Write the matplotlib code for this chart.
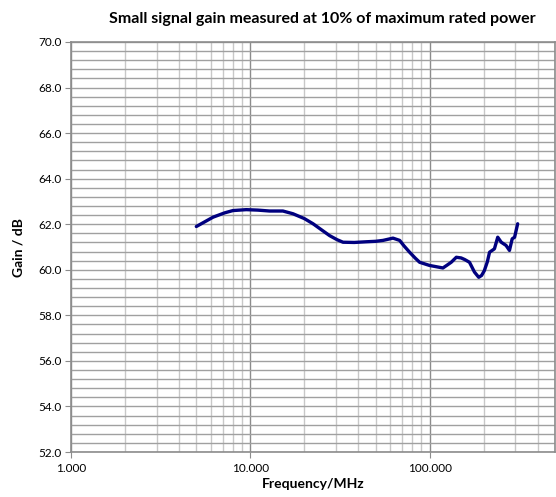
import numpy as np
import matplotlib
matplotlib.use("Agg")
from matplotlib import pyplot as plt
from matplotlib.ticker import FixedLocator, MultipleLocator, FormatStrFormatter

# data
freq_mhz = [5.0, 6.2, 7.2, 8.0, 9.5, 11.0, 12.8, 15.2, 17.3, 20.0, 22.4, 25.0, 27.7,
            30.5, 32.9, 38.0, 44.4, 50.0, 55.0, 62.5, 68.1, 72.0, 77.4, 83.0, 88.0,
            100.0, 118.7, 125.0, 132.0, 141.0, 150.0, 157.0, 167.0, 178.0, 188.0,
            195.0, 202.0, 210.0, 216.0, 230.0, 240.0, 251.0, 267.0, 279.0, 289.0,
            298.0, 310.0]
gain_db = [61.9, 62.31, 62.5, 62.6, 62.64, 62.62, 62.58, 62.58, 62.46, 62.25, 62.02,
           61.75, 61.5, 61.32, 61.21, 61.2, 61.23, 61.25, 61.29, 61.39, 61.29, 61.05,
           60.77, 60.52, 60.33, 60.19, 60.08, 60.2, 60.33, 60.55, 60.52, 60.45, 60.33,
           59.9, 59.67, 59.75, 59.96, 60.35, 60.77, 60.92, 61.43, 61.21, 61.07, 60.85,
           61.36, 61.43, 62.02]

plt.rcParams['font.family'] = ['Lato', 'DejaVu Sans']

fig = plt.figure(figsize=(5.56, 4.97), dpi=100)
ax = fig.add_axes([0.1277, 0.0905, 0.8703, 0.825])

ax.plot(freq_mhz, gain_db, color='#00007f', lw=2.4, solid_capstyle='round', zorder=3)

ax.set_xscale('log')
ax.set_xlim(1, 500)
ax.set_ylim(52, 70)

ax.xaxis.set_major_locator(FixedLocator([1, 10, 100]))
ax.xaxis.set_minor_locator(FixedLocator([m * d for d in (1, 10, 100) for m in range(2, 10) if m * d <= 500]))
ax.xaxis.set_major_formatter(FormatStrFormatter('%.3f'))
ax.xaxis.set_minor_formatter(plt.NullFormatter())
ax.yaxis.set_major_locator(MultipleLocator(2))
ax.yaxis.set_minor_locator(MultipleLocator(0.4))
ax.yaxis.set_major_formatter(FormatStrFormatter('%.1f'))

ax.grid(which='major', axis='x', color='#8c8c8c', lw=1.0)
ax.grid(which='minor', axis='x', color='#c8c8c8', lw=1.0)
ax.grid(which='both', axis='y', color='#a0a0a0', lw=1.0)
ax.set_axisbelow(True)

for s in ax.spines.values():
    s.set_color('#8c8c8c')
    s.set_linewidth(1.2)

ax.tick_params(which='major', length=4, color='#8c8c8c', labelsize=8.5, pad=3)
ax.tick_params(which='minor', length=0)
ax.tick_params(axis='x', pad=4)

ax.set_title('Small signal gain measured at 10% of maximum rated power',
             fontsize=11.5, fontweight='bold', pad=14, x=0.52)
ax.set_xlabel('Frequency/MHz', fontsize=10, fontweight='bold', labelpad=3)
ax.set_ylabel('Gain / dB', fontsize=10, fontweight='bold', labelpad=10)

fig.savefig('out.png', dpi=100)
